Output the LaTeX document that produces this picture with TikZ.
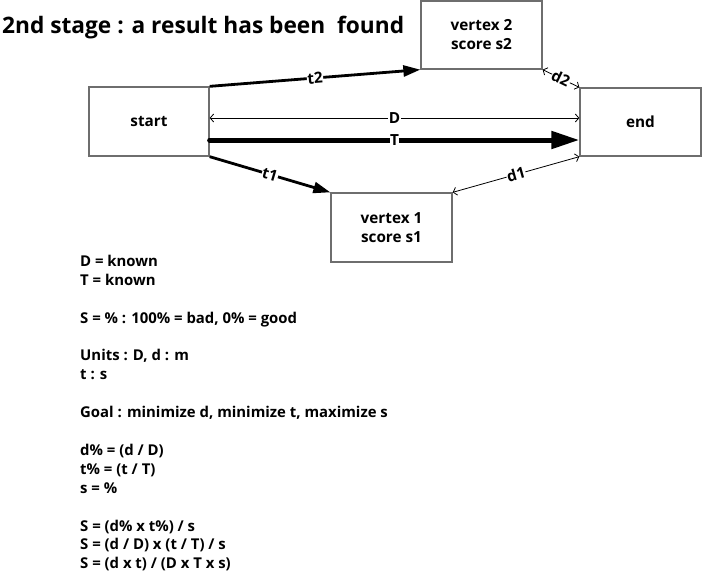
\documentclass[tikz,border=0pt]{standalone}
\usepackage{fontspec}
\setmainfont{Open Sans}
\usetikzlibrary{arrows.meta}
\definecolor{boxgray}{RGB}{110,110,110}
\tikzset{
  vbox/.style={draw=boxgray, line width=1.3pt, minimum width=#1, inner sep=0pt, align=center, font=\bfseries\fontsize{15.3}{19}\selectfont},
  thickarr/.style={line width=2.8pt, -{Triangle[length=17pt,width=11pt]}},
  bigarr/.style={line width=5pt, line cap=round, -{Triangle[length=28pt,width=17pt]}},
  thinarr/.style={line width=0.8pt, {Straight Barb[length=3.5pt,width=8pt]}-{Straight Barb[length=3.5pt,width=8pt]}},
  lab/.style={fill=white, inner sep=0.5pt, font=\bfseries\fontsize{15.3}{17}\selectfont},
  txt/.style={anchor=base west, inner sep=0pt, font=\bfseries\fontsize{14.9}{17}\selectfont},
}
\begin{document}
\begin{tikzpicture}[x=1pt, y=-1pt]
\useasboundingbox (0,0) rectangle (702,579);
\node[anchor=base west, inner sep=0pt, font=\bfseries\fontsize{22.7}{27}\selectfont] (title) at (2,33) {2nd stage : a result has been\ \ found};
\node[vbox=121pt, minimum height=68pt] (v2) at (481.5,35) {vertex 2\\score s2};
\node[vbox=120pt, minimum height=69pt] (start) at (149,121.5) {start};
\node[vbox=121pt, minimum height=68pt] (end) at (640.5,122) {end};
\node[vbox=121pt, minimum height=69pt] (v1) at (391.5,227.5) {vertex 1\\score s1};

\draw[thickarr] (start.north east) -- node[lab, sloped] {t2} (v2.south west);
\draw[thickarr] (start.south east) -- node[lab, sloped] {t1} (v1.north west);
\draw[thinarr] (v2.south east) -- node[lab, sloped] {d2} (end.north west);
\draw[thinarr] (end.south west) -- node[lab, sloped] {d1} (v1.north east);
\draw[thinarr] ([yshift=3.5pt]start.east) -- node[lab] {D} ([yshift=4pt]end.west);
\draw[bigarr] ([yshift=-18.5pt]start.east) -- node[lab, inner sep=0pt] {T} ([yshift=-18pt]end.west);

\node[txt] (l1) at (80,266) {D = known};
\node[txt] (l2) at (80,285) {T = known};
\node[txt] (l3) at (80,323) {S = \% : 100\% = bad, 0\% = good};
\node[txt] (l4) at (80,360.5) {Units : D, d : m};
\node[txt] (l5) at (80,379) {t : s};
\node[txt] (l6) at (80,417) {Goal : minimize d, minimize t, maximize s};
\node[txt] (l7) at (80,455) {d\% = (d / D)};
\node[txt] (l8) at (80,474) {t\% = (t / T)};
\node[txt] (l9) at (80,493) {s = \%};
\node[txt] (l10) at (80,531) {S = (d\% x t\%) / s};
\node[txt] (l11) at (80,549.5) {S = (d / D) x (t / T) / s};
\node[txt] (l12) at (80,568.5) {S = (d x t) / (D x T x s)};
\end{tikzpicture}
\end{document}
